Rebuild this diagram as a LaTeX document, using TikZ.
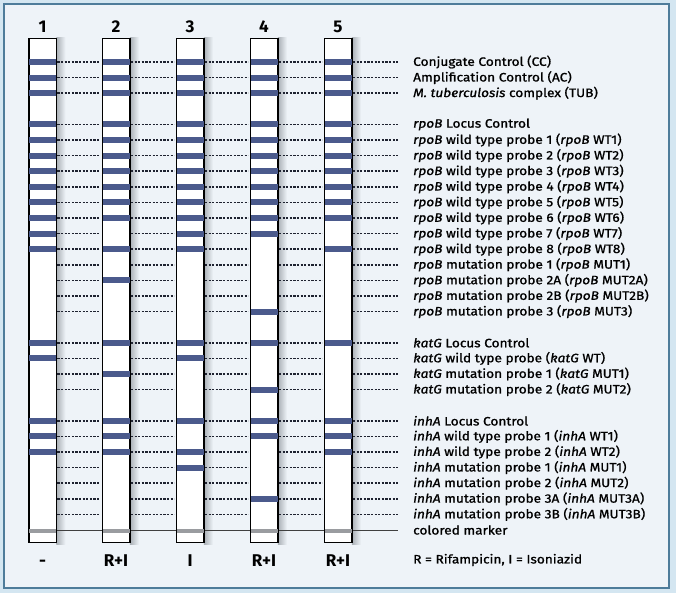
\documentclass[tikz,border=0pt]{standalone}
\usepackage{fontspec}
\setmainfont{Fira Sans}
\newfontfamily\labfont{Fira Sans}[FakeStretch=1.12,UprightFeatures={FakeBold=1.1},ItalicFeatures={FakeBold=1.1}]
\usetikzlibrary{positioning}
\definecolor{outerblue}{HTML}{D4E6F1}
\definecolor{bgblue}{HTML}{EEF3F8}
\definecolor{framecol}{HTML}{4E7C9A}
\definecolor{bandblue}{HTML}{4B5A8C}
\definecolor{shadowgray}{HTML}{A9AFB5}
\definecolor{markgray}{HTML}{9A9CA0}
\definecolor{dotgray}{HTML}{1E2230}
\begin{document}
\begin{tikzpicture}[x=1pt,y=-1pt,
    strip/.style={draw=black,line width=0.8pt,fill=white,minimum width=27pt,minimum height=504pt,inner sep=0pt,anchor=north},
    probe/.style={fill=bandblue},
    dots/.style={line width=1.5pt,dash pattern=on 2.2pt off 1.4pt,dotgray},
    lbl/.style={anchor=west,inner sep=0pt,font=\fontsize{12.2pt}{14pt}\labfont},
    num/.style={inner sep=0pt,anchor=base,font=\fontsize{17pt}{19pt}\selectfont\bfseries}]
  \useasboundingbox (0,0) rectangle (676,593);
  % frame
  \fill[outerblue] (0,0) rectangle (676,593);
  \draw[framecol,line width=1.6pt,fill=bgblue] (4,4) rectangle (669,588);
  % strips (placed first as empty nodes, for the shadows)
  \foreach \i/\x in {1/42.5,2/116,3/190,4/264,5/338}{
    \path (\x,38) node[strip,draw=none,fill=none] (s\i) {};
    \shade[left color=shadowgray,right color=bgblue] (s\i.north east) rectangle ++(9,506);
  }
  % probe labels and dotted guide lines
  \foreach \k/\txt in {0/{Conjugate Control (CC)},1/{Amplification Control (AC)},2/{\textit{M. tuberculosis} complex (TUB)},
      4/{\textit{rpoB} Locus Control},5/{\textit{rpoB} wild type probe 1 (\textit{rpoB} WT1)},6/{\textit{rpoB} wild type probe 2 (\textit{rpoB} WT2)},
      7/{\textit{rpoB} wild type probe 3 (\textit{rpoB} WT3)},8/{\textit{rpoB} wild type probe 4 (\textit{rpoB} WT4)},9/{\textit{rpoB} wild type probe 5 (\textit{rpoB} WT5)},
      10/{\textit{rpoB} wild type probe 6 (\textit{rpoB} WT6)},11/{\textit{rpoB} wild type probe 7 (\textit{rpoB} WT7)},12/{\textit{rpoB} wild type probe 8 (\textit{rpoB} WT8)},
      13/{\textit{rpoB} mutation probe 1 (\textit{rpoB} MUT1)},14/{\textit{rpoB} mutation probe 2A (\textit{rpoB} MUT2A)},15/{\textit{rpoB} mutation probe 2B (\textit{rpoB} MUT2B)},
      16/{\textit{rpoB} mutation probe 3 (\textit{rpoB} MUT3)},
      18/{\textit{katG} Locus Control},19/{\textit{katG} wild type probe (\textit{katG} WT)},20/{\textit{katG} mutation probe 1 (\textit{katG} MUT1)},
      21/{\textit{katG} mutation probe 2 (\textit{katG} MUT2)},
      23/{\textit{inhA} Locus Control},24/{\textit{inhA} wild type probe 1 (\textit{inhA} WT1)},25/{\textit{inhA} wild type probe 2 (\textit{inhA} WT2)},
      26/{\textit{inhA} mutation probe 1 (\textit{inhA} MUT1)},27/{\textit{inhA} mutation probe 2 (\textit{inhA} MUT2)},28/{\textit{inhA} mutation probe 3A (\textit{inhA} MUT3A)},
      29/{\textit{inhA} mutation probe 3B (\textit{inhA} MUT3B)}}{
    \pgfmathsetmacro\y{62+15.6*\k}
    \node[lbl] (r\k) at (413,\y) {\txt};
    \foreach \i/\j in {1/2,2/3,3/4,4/5}{
      \draw[dots] ([xshift=1pt]s\i.east |- r\k.west) -- ([xshift=-2pt]s\j.west |- r\k.west);
    }
    \draw[dots] ([xshift=1pt]s5.east |- r\k.west) -- ([xshift=-15pt]r\k.west);
  }
  % colored marker line
  \node[lbl] (mk) at (413,530) {colored marker};
  \draw[line width=0.8pt,black!75] (s1.west |- mk.west) -- ([xshift=-15pt]mk.west);
  % strips with bands
  \foreach \i/\bands in {1/{0,1,2,4,5,6,7,8,9,10,11,12,18,19,23,24,25},
      2/{0,1,2,4,5,6,7,8,9,10,12,14,18,20,23,24,25},
      3/{0,1,2,4,5,6,7,8,9,10,11,12,18,19,23,25,26},
      4/{0,1,2,4,5,6,7,8,9,10,11,16,18,21,23,24,28},
      5/{0,1,2,4,5,6,7,8,9,10,12,18,23,24,25}}{
    \node[strip] at (s\i.north) {};
    \foreach \k in \bands{
      \pgfmathsetmacro\ya{62+15.6*\k-3}
      \pgfmathsetmacro\yb{62+15.6*\k+3}
      \fill[probe] (s\i.west |- 0,\ya) rectangle (s\i.east |- 0,\yb);
    }
    \fill[markgray] (s\i.west |- 0,528.5) rectangle (s\i.east |- 0,532.5);
    \draw[line width=0.8pt] (s\i.north west) rectangle (s\i.south east);
    \node[num] at (s\i.north |- 0,33) {\i};
  }
  % drug resistance
  \foreach \i/\res in {1/-,2/R+I,3/I,4/R+I,5/R+I}{
    \node[num] at (s\i.south |- 0,566) {\res};
  }
  \node[lbl] (key) at (413,560) {R = Rifampicin, I = Isoniazid};
\end{tikzpicture}
\end{document}
